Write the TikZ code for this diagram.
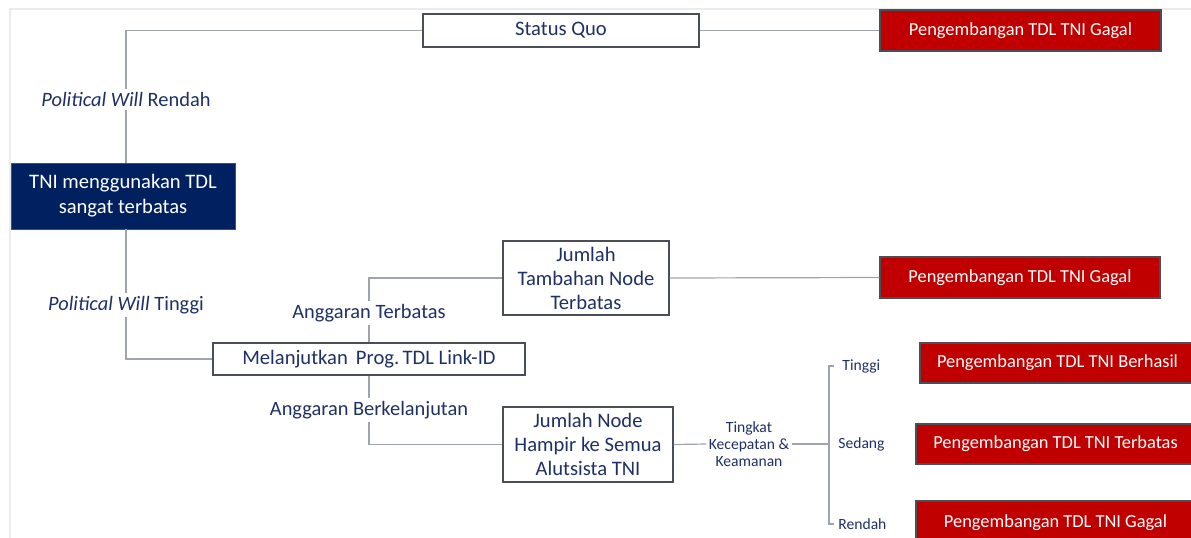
\documentclass[tikz,border=0pt]{standalone}
\usepackage{fontspec}
\setmainfont{Carlito}
\usepackage{xcolor}
\usepackage{tikz}
\usetikzlibrary{positioning,calc}

\definecolor{navy}{HTML}{002060}
\definecolor{tdlred}{HTML}{C00000}
\definecolor{linegray}{HTML}{9FA4AA}
\definecolor{boxgray}{HTML}{4A4F57}
\definecolor{textblue}{HTML}{1F3064}

\begin{document}
\begin{tikzpicture}[x=0.5pt,y=-0.5pt,
  conn/.style={draw=linegray, line width=0.6pt},
  whitebox/.style={draw=boxgray, fill=white, line width=0.6pt, text=textblue,
    font=\fontsize{10.3}{12}\selectfont, inner sep=0pt, align=center},
  redbox/.style={draw=boxgray, fill=tdlred, line width=0.6pt, text=white,
    font=\fontsize{9.2}{12}\selectfont, inner sep=0pt, align=center},
  lbl/.style={fill=white, text=textblue, font=\fontsize{10.2}{12}\selectfont, inner sep=1.5pt, yshift=-1.5pt},
  small/.style={text=textblue, font=\fontsize{7.8}{8.6}\selectfont, align=center, inner sep=1pt}]
\useasboundingbox (0,0) rectangle (1191,537);
\clip (0,0) rectangle (1191,537);

% Slide frame
\draw[black!8, line width=0.6pt] (10,9) rectangle (1210,560);

% Start
\node[draw=boxgray, fill=navy, text=white, font=\fontsize{10.3}{12.5}\selectfont, align=center,
  minimum width=112pt, minimum height=33pt, inner sep=0pt] (start) at (123,196) {TNI menggunakan TDL\\sangat terbatas};

% Upper branch
\node[whitebox, minimum width=138pt, minimum height=16.5pt] (quo) at (561,30.5) {Status Quo};
\node[redbox, minimum width=140.5pt, minimum height=20.5pt] (gagalA) at (1020.5,30.5) {Pengembangan TDL TNI Gagal};
\draw[conn] (start.north -| 126,0) |- node[lbl, pos=0.25] (rendah) {\textit{Political Will} Rendah} (quo.west);
\draw[conn] (quo.east) -- (gagalA.west);

% Lower branch
\node[whitebox, minimum width=156pt, minimum height=16pt] (lanjut) at (369,359) {Melanjutkan\, Prog.\,TDL Link-ID};
\draw[conn] (start.south -| 126,0) |- node[lbl, pos=0.28] (tinggi) {\textit{Political Will} Tinggi} (lanjut.west);

\node[whitebox, minimum width=83pt, minimum height=37pt] (tambah) at (586,278) {Jumlah\\Tambahan Node\\Terbatas};
\node[redbox, minimum width=140pt, minimum height=20.5pt] (gagalB) at (1020,277.5) {Pengembangan TDL TNI Gagal};
\draw[conn] (lanjut.north) |- node[lbl, pos=0.25] (terbatas) {Anggaran Terbatas} (tambah.west);
\draw[conn] (tambah.east) -- (gagalB.west);

\node[whitebox, minimum width=85pt, minimum height=37.5pt] (semua) at (588,444.5) {Jumlah Node\\Hampir ke Semua\\Alutsista TNI};
\draw[conn] (lanjut.south) |- node[lbl, pos=0.23] (lanjutan) {Anggaran Berkelanjutan} (semua.west);

% Speed and security levels
\node[small] (speed) at (749,444) {Tingkat\\Kecepatan \&\\Keamanan};
\draw[conn] (semua.east) -- (speed.west);
\coordinate (brTop) at (829,366);
\coordinate (brBot) at (829,524);
\draw[conn] ($(brTop)+(5,0)$) -- (brTop) -- (brBot) -- ++(5,0);
\draw[conn] (speed.east) -- (speed.east -| brTop);

\node[small, anchor=west] (lvTinggi) at (840,366) {Tinggi};
\node[small, anchor=west] (lvSedang) at (836,444) {Sedang};
\node[small, anchor=west] (lvRendah) at (836,524) {Rendah};

\node[redbox, minimum width=137.5pt, minimum height=20pt] (berhasil) at (1057.5,363) {Pengembangan TDL TNI Berhasil};
\node[redbox, minimum width=139.5pt, minimum height=20pt] (hasilTerbatas) at (1055.5,444) {Pengembangan TDL TNI Terbatas};
\node[redbox, minimum width=139.5pt, minimum height=20pt, text depth=0pt] (gagalC) at (1055.5,521) {Pengembangan TDL TNI Gagal};

\end{tikzpicture}
\end{document}
